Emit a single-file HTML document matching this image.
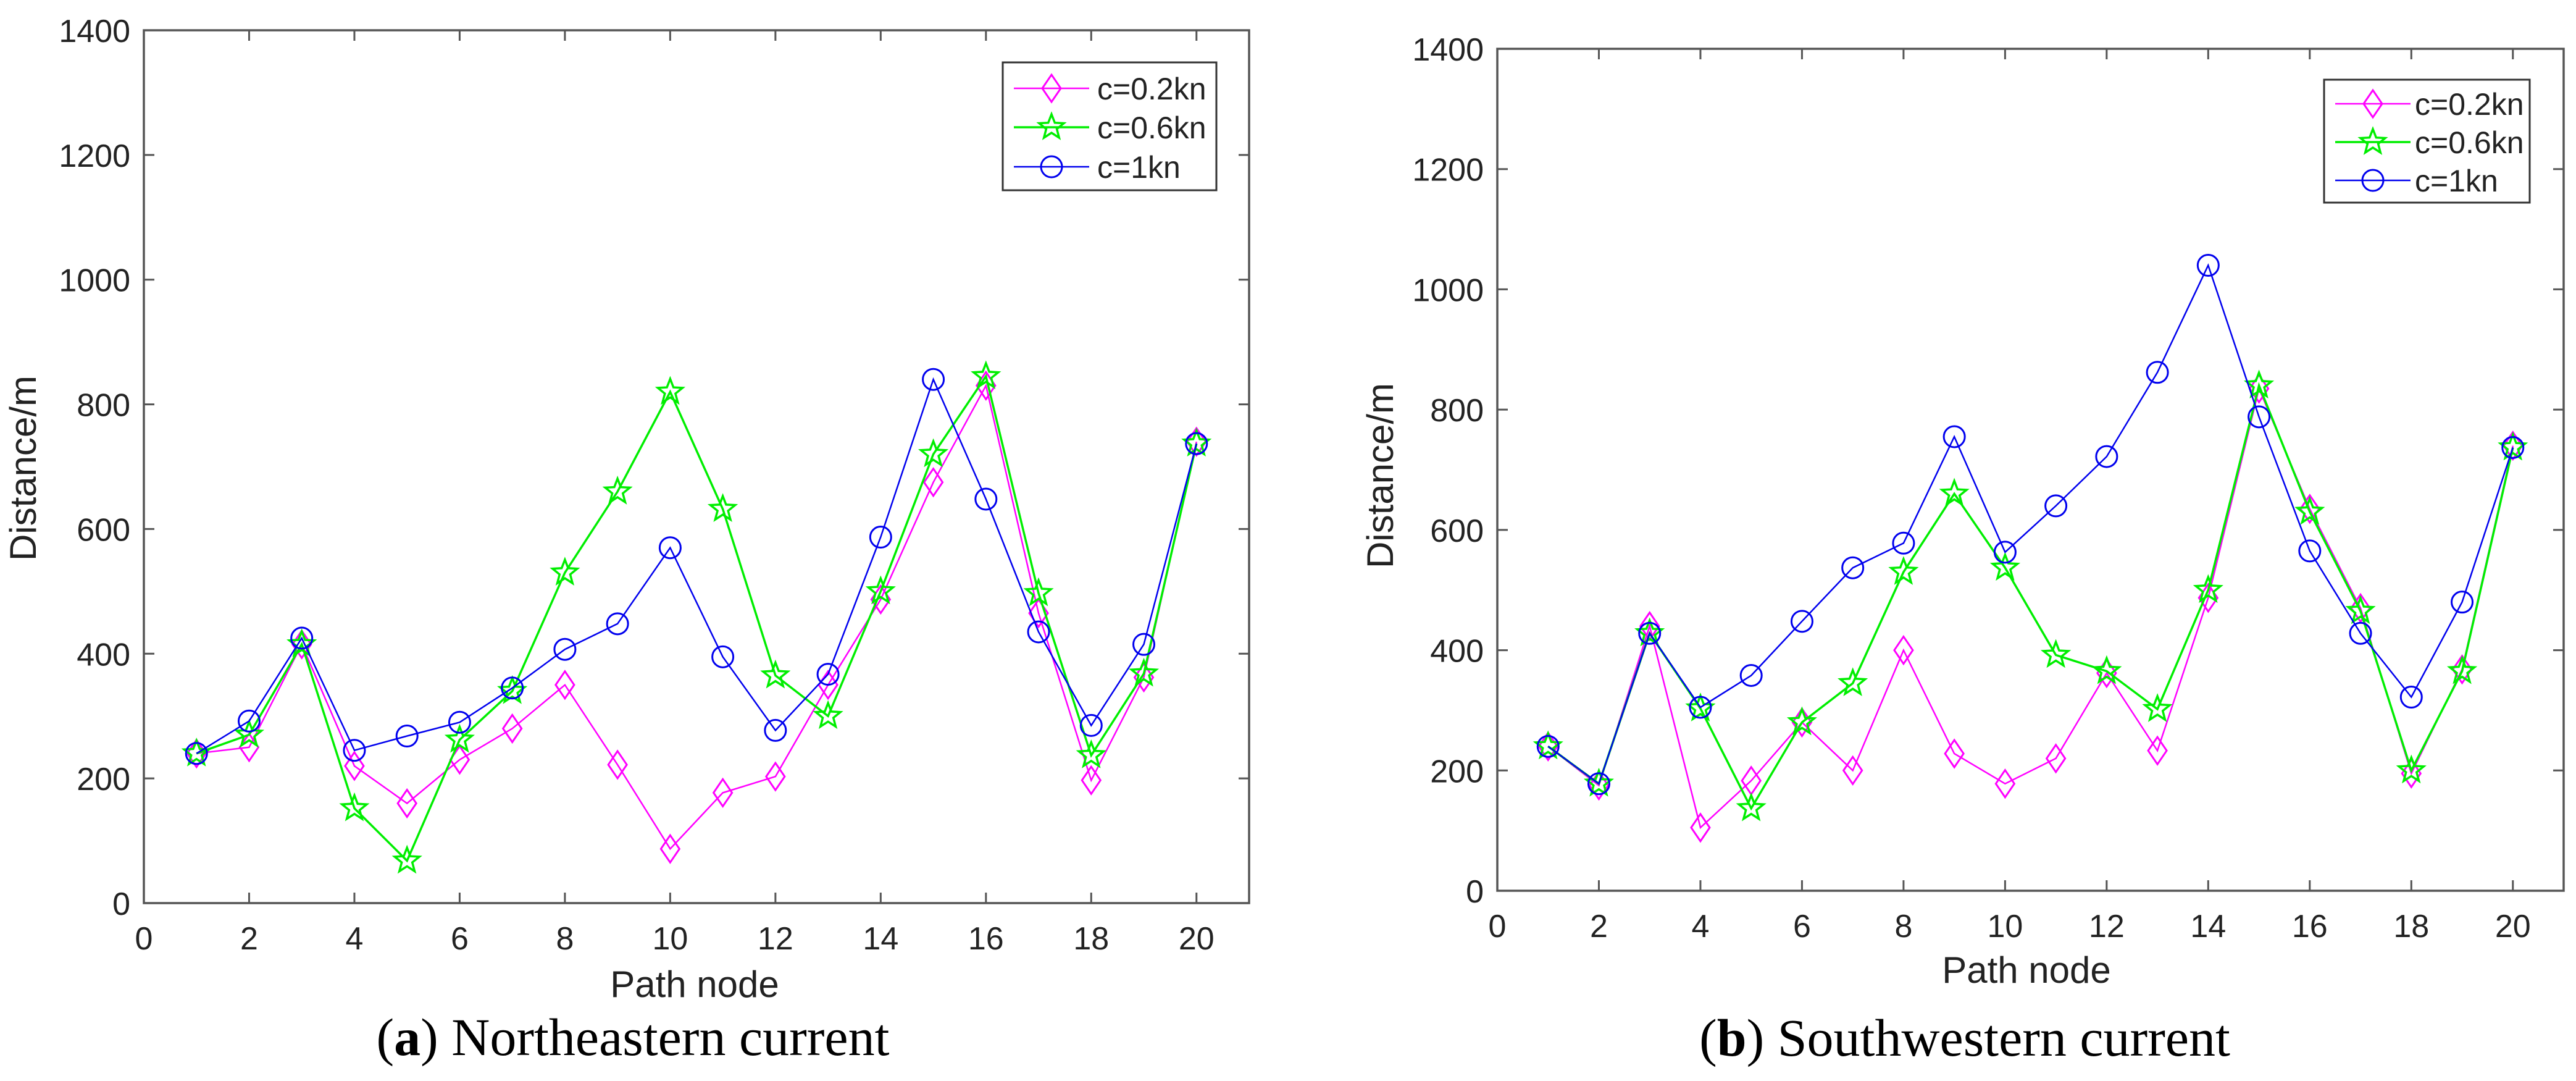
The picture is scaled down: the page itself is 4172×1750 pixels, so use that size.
<!DOCTYPE html>
<html><head><meta charset="utf-8">
<style>
html,body{margin:0;padding:0;background:#fff;}
svg{display:block;}
text{font-family:"Liberation Sans",sans-serif;fill:#222;}
.cap{font-family:"Liberation Serif",serif;fill:#000;}
</style></head>
<body>
<svg id="chart" width="4172" height="1750" viewBox="0 0 4172 1750" xmlns="http://www.w3.org/2000/svg"></svg>
<script>
const nodes = [1,2,3,4,5,6,7,8,9,10,11,12,13,14,15,16,17,18,19,20];
const xTicks = [0,2,4,6,8,10,12,14,16,18,20];
const yTicks = [0,200,400,600,800,1000,1200,1400];
const seriesNames = ["c=0.2kn","c=0.6kn","c=1kn"];
const neLow  = [240,250,415,220,160,230,280,350,222,87,177,203,350,487,675,830,465,197,362,740];
const neMid  = [240,270,415,152,68,262,340,530,660,820,632,365,300,500,720,845,497,237,368,737];
const neHigh = [240,292,425,245,268,290,345,407,448,570,395,277,367,587,840,648,435,285,415,737];
const swLow  = [240,175,440,105,183,280,200,400,228,178,220,362,233,487,835,635,470,195,368,740];
const swMid  = [240,178,428,303,137,280,345,530,660,537,392,365,302,500,840,630,465,200,365,737];
const swHigh = [240,178,428,305,358,448,537,578,755,563,640,722,862,1040,788,565,428,322,480,737];

const NS="http://www.w3.org/2000/svg";
const svg=document.getElementById('chart');
function mk(tag,attrs,parent){const e=document.createElementNS(NS,tag);for(const k in attrs)e.setAttribute(k,attrs[k]);(parent||svg).appendChild(e);return e;}

const colors=["#ff00ff","#00ee00","#0000ee"];
const widths=[2.5,3.5,2.5];

function marker(g,type,cx,cy,color){
  let m;
  if(type===0){
    m=mk('polygon',{points:`${cx},${cy-22} ${cx+15},${cy} ${cx},${cy+22} ${cx-15},${cy}`,fill:'none',stroke:color,'stroke-width':3},g);
  }else if(type===1){
    let pts=[];for(let i=0;i<10;i++){const r=i%2?9:21;const a=-Math.PI/2+i*Math.PI/5;pts.push((cx+r*Math.cos(a)).toFixed(1)+','+(cy+r*Math.sin(a)).toFixed(1));}
    m=mk('polygon',{points:pts.join(' '),fill:'none',stroke:color,'stroke-width':3.5},g);
  }else{
    m=mk('circle',{cx:cx,cy:cy,r:17,fill:'none',stroke:color,'stroke-width':3},g);
  }
  return m;
}

function panel(cfg){
  const {L,R,T,B,series,ylabX,ylabY,xlabX,xlabY,capX,capY,capLetter,capText,leg,prefix}=cfg;
  const g=mk('g',{});
  
  
  const sx=v=>L+(v/21)*(R-L);
  const sy=v=>B-(v/1400)*(B-T);
  const frame=mk('rect',{x:L,y:T,width:R-L,height:B-T,fill:'none',stroke:'#555','stroke-width':3.5},g);
  
  
  xTicks.forEach(t=>{
    const x=sx(t);
    mk('line',{x1:x,y1:B,x2:x,y2:B-17,stroke:'#555','stroke-width':3},g);
    mk('line',{x1:x,y1:T,x2:x,y2:T+17,stroke:'#555','stroke-width':3},g);
    const tx=mk('text',{x:x,y:B+75,'font-size':52,'text-anchor':'middle'},g);
    tx.textContent=t;
    
    
  });
  yTicks.forEach(t=>{
    const y=sy(t);
    mk('line',{x1:L,y1:y,x2:L+17,y2:y,stroke:'#555','stroke-width':3},g);
    mk('line',{x1:R,y1:y,x2:R-17,y2:y,stroke:'#555','stroke-width':3},g);
    const tx=mk('text',{x:L-22,y:y+19,'font-size':52,'text-anchor':'end'},g);
    tx.textContent=t;
    
    
  });
  const yl=mk('text',{x:0,y:0,'font-size':60,'text-anchor':'middle',transform:`translate(${ylabX},${ylabY}) rotate(-90)`},g);
  yl.textContent='Distance/m';
  
  
  const xl=mk('text',{x:xlabX,y:xlabY,'font-size':60,'text-anchor':'middle'},g);
  xl.textContent='Path node';
  
  
  series.forEach((vals,si)=>{
    const sg=mk('g',{},g);
    
    
    const pts=nodes.map((n,i)=>sx(n).toFixed(1)+','+sy(vals[i]).toFixed(1)).join(' ');
    const pl=mk('polyline',{points:pts,fill:'none',stroke:colors[si],'stroke-width':widths[si]},sg);
    
    
    nodes.forEach((n,i)=>{
      const m=marker(sg,si,sx(n),sy(vals[i]),colors[si]);
      
      
    });
  });
  const lg=mk('g',{},g);
  
  
  mk('rect',{x:leg.x,y:leg.y,width:leg.w,height:leg.h,fill:'#fff',stroke:'#333','stroke-width':3},lg);
  seriesNames.forEach((nm,si)=>{
    const ry=leg.rows[si];
    mk('line',{x1:leg.x+18,y1:ry,x2:leg.x+140,y2:ry,stroke:colors[si],'stroke-width':widths[si]},lg);
    marker(lg,si,leg.x+79,ry,colors[si]);
    const t=mk('text',{x:leg.tx,y:ry+18,'font-size':50},lg);
    t.textContent=nm;
    
    
  });
  const cap=mk('text',{x:capX,y:capY,'font-size':86,'text-anchor':'middle',class:'cap'},g);
  const b=mk('tspan',{},cap);b.textContent='(';
  const bb=mk('tspan',{'font-weight':'bold'},cap);bb.textContent=capLetter;
  const c=mk('tspan',{},cap);c.textContent=') '+capText;
  
  
}

panel({prefix:'northeastern',L:233,R:2023,T:49,B:1462,series:[neLow,neMid,neHigh],
  ylabX:58,ylabY:758,xlabX:1125,xlabY:1614,capX:1025,capY:1708,capLetter:'a',capText:'Northeastern current',
  leg:{x:1624,y:101,w:346,h:207,rows:[143,206,270],tx:1777}});
panel({prefix:'southwestern',L:2425,R:4152,T:79,B:1442,series:[swLow,swMid,swHigh],
  ylabX:2256,ylabY:770,xlabX:3282,xlabY:1591,capX:3182,capY:1709,capLetter:'b',capText:'Southwestern current',
  leg:{x:3764,y:129,w:333,h:199,rows:[168,230,292],tx:3911}});
</script>
</body></html>
